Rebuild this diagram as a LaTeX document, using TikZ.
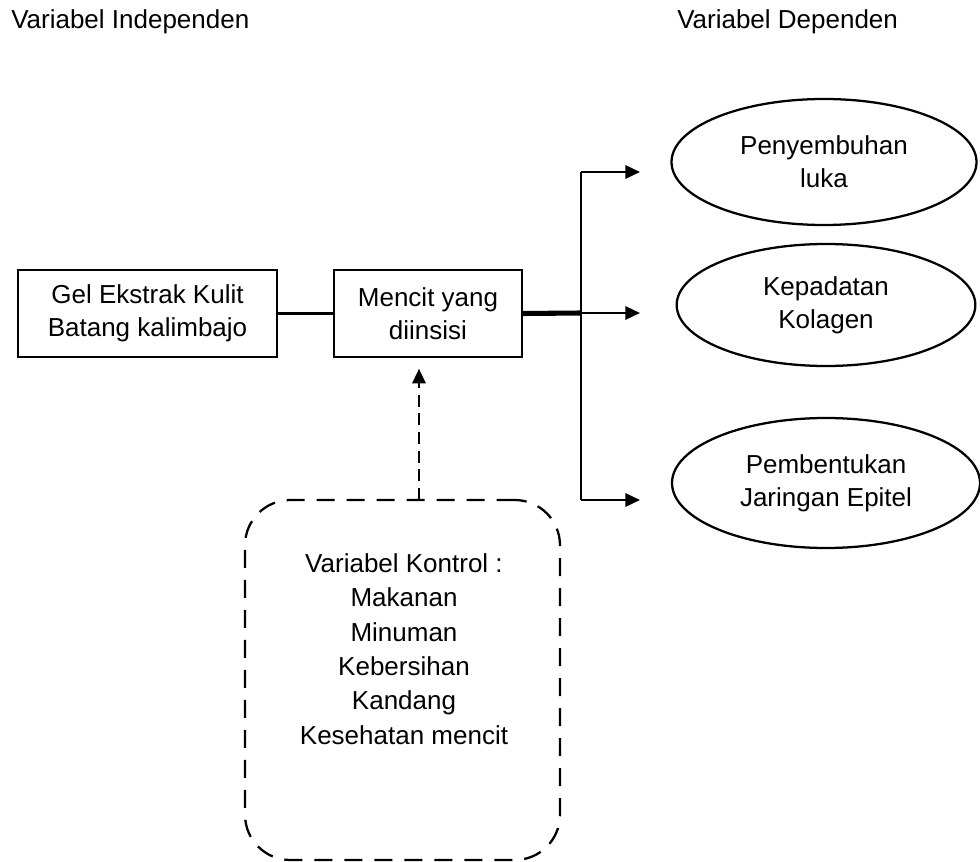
\documentclass[tikz,border=0pt]{standalone}
\usepackage{fontspec}
\setmainfont{Liberation Sans}
\usetikzlibrary{shapes.geometric,arrows.meta}
\begin{document}
\begin{tikzpicture}[x=0.75pt,y=-0.75pt,
		every node/.style={font=\fontsize{19.5}{25}\selectfont,align=center,inner sep=0pt},
		kotak/.style={draw,line width=1.7pt,minimum height=65.25pt},
		elips/.style={draw,ellipse,line width=1.7pt},
		garis/.style={line width=1.7pt},
		panah/.style={line width=1.7pt,-{Triangle[length=11pt,width=10pt]}},
		putus/.style={line width=1.7pt,dash pattern=on 9pt off 5pt,-{Triangle[length=11pt,width=10pt]}}]
		\useasboundingbox (0,0) rectangle (980,862);
		\node [anchor=base west] (judulbebas) at (11,29) {Variabel Independen};
		\node [anchor=base west] (judulterikat) at (677,29) {Variabel Dependen};
		\node [kotak,minimum width=194.25pt] (gel) at (147.5,313.5) {Gel Ekstrak Kulit\\Batang kalimbajo};
		\node [kotak,minimum width=141pt] (mencit) at (428,313.5) {Mencit yang\\diinsisi};
		\node [elips,minimum width=228.75pt,minimum height=94.5pt] (luka) at (824,162) {Penyembuhan\\luka};
		\node [elips,minimum width=224pt,minimum height=91.5pt] (kolagen) at (826,305) {Kepadatan\\Kolagen};
		\node [elips,minimum width=231pt,minimum height=97.5pt] (epitel) at (826,483) {Pembentukan\\Jaringan Epitel};
		\node [draw,line width=1.7pt,rounded corners=34pt,dash pattern=on 13.5pt off 9pt,minimum width=236.25pt,minimum height=270pt] (kontrol) at (402.5,680) {};
		\node [font=\fontsize{19.5}{25.8}\selectfont] (isikontrol) at (404,649) {Variabel Kontrol :\\Makanan\\Minuman\\Kebersihan\\Kandang\\Kesehatan mencit};
		\coordinate (cabang) at (581,313);
		\coordinate (t1) at (640,172);
		\coordinate (t2) at (640,313);
		\coordinate (t3) at (640,500);
		\coordinate (ctl) at (419,500);
		\draw [garis] (gel) -- (mencit);
		\draw [line width=3.8pt] (mencit.east) -- (cabang);
		\draw [garis] (cabang |- t1) -- (cabang |- t3);
		\draw [panah] (cabang |- t1) -- (t1);
		\draw [panah] (cabang) -- (t2);
		\draw [panah] (cabang |- t3) -- (t3);
		\draw [putus,shorten >=8pt] (ctl) -- (ctl |- mencit.south);
	\end{tikzpicture}
\end{document}
